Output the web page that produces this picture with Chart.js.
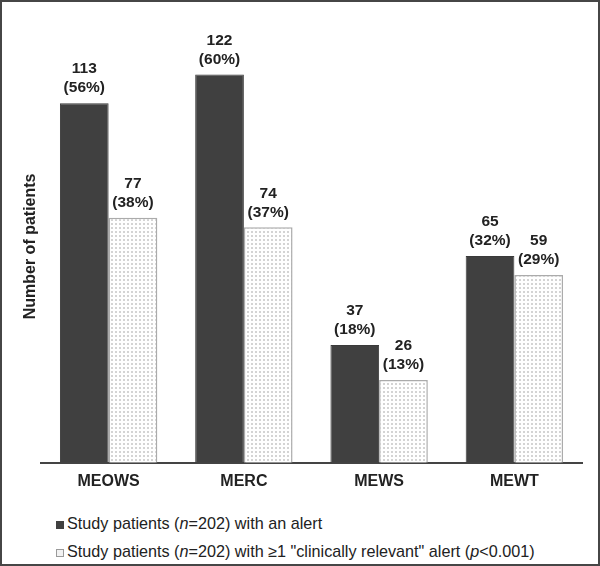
<!DOCTYPE html>
<html>
<head>
<meta charset="utf-8">
<script src="https://cdn.jsdelivr.net/npm/chart.js@4"></script>
<style>
  html, body { margin: 0; padding: 0; background: #fff; }
  #frame {
    position: relative;
    width: 600px; height: 566px;
    box-sizing: border-box;
    border: 2px solid #464646;
    background: #fff;
    font-family: Arial, "Liberation Sans", sans-serif;
  }
  #chartBox { position: absolute; left: 0; top: 0; width: 596px; height: 498px; }
  #legend { position: absolute; left: 54px; top: 507px; font-size: 16.2px; color: #222; }
  .row { height: 28px; line-height: 28px; white-space: nowrap; }
  .key { display: inline-block; width: 8px; height: 8px; margin-right: 3px; vertical-align: 0px; box-sizing: border-box; }
  .k1 { background: #404040; }
  .k2 { background: #f2f2f2; border: 1px solid #9a9a9a; }
</style>
</head>
<body>
<div id="frame">
  <div id="chartBox"><canvas id="alertChart"></canvas></div>
  <div id="legend">
    <div class="row"><span class="key k1"></span>Study patients (<i>n</i>=202) with an alert</div>
    <div class="row"><span class="key k2"></span>Study patients (<i>n</i>=202) with ≥1 "clinically relevant" alert (<i>p</i>&lt;0.001)</div>
  </div>
</div>
<script>
const scores = ["MEOWS", "MERC", "MEWS", "MEWT"];
const withAlert = [113, 122, 37, 65];
const withAlertPct = ["56%", "60%", "18%", "32%"];
const clinicallyRelevant = [77, 74, 26, 59];
const clinicallyRelevantPct = ["38%", "37%", "13%", "29%"];
const seriesNames = [
  "Study patients (n=202) with an alert",
  "Study patients (n=202) with ≥1 \"clinically relevant\" alert (p<0.001)"
];

function dotPattern() {
  const tile = document.createElement("canvas");
  tile.width = 4;
  tile.height = 4;
  const t = tile.getContext("2d");
  t.fillStyle = "#ffffff";
  t.fillRect(0, 0, 4, 4);
  t.fillStyle = "#d4d4d4";
  t.fillRect(1, 1, 2, 2);
  return t.createPattern(tile, "repeat");
}

// value + percentage above each bar
const barLabels = {
  id: "barLabels",
  afterDatasetsDraw(chart) {
    const ctx = chart.ctx;
    const pcts = [withAlertPct, clinicallyRelevantPct];
    ctx.save();
    ctx.font = "bold 15.5px Arial, 'Liberation Sans', sans-serif";
    ctx.fillStyle = "#222";
    ctx.textAlign = "center";
    ctx.textBaseline = "middle";
    chart.data.datasets.forEach((ds, i) => {
      chart.getDatasetMeta(i).data.forEach((bar, j) => {
        ctx.fillText(String(ds.data[j]), bar.x, bar.y - 34);
        ctx.fillText("(" + pcts[i][j] + ")", bar.x, bar.y - 15);
      });
    });
    ctx.restore();
  }
};

const ctx = document.getElementById("alertChart").getContext("2d");
new Chart(ctx, {
  type: "bar",
  data: {
    labels: scores,
    datasets: [
      {
        label: seriesNames[0],
        data: withAlert,
        backgroundColor: "#404040",
        borderColor: "#3a3a3a",
        borderWidth: 1,
        categoryPercentage: 0.72,
        barPercentage: 1.0,
      },
      {
        label: seriesNames[1],
        data: clinicallyRelevant,
        backgroundColor: dotPattern(),
        borderColor: "#ababab",
        borderWidth: 1.5,
        categoryPercentage: 0.72,
        barPercentage: 1.0,
      },
    ],
  },
  options: {
    responsive: true,
    maintainAspectRatio: false,
    animation: false,
    layout: { padding: { left: 15.4, right: 16, top: 28, bottom: 0 } },
    plugins: {
      legend: { display: false },
      tooltip: { enabled: false },
    },
    scales: {
      x: {
        grid: { display: false, drawTicks: false },
        border: { display: true, color: "#444", width: 2 },
        ticks: {
          color: "#222",
          padding: 9,
          font: { family: "Arial, 'Liberation Sans', sans-serif", size: 16, weight: "bold" },
        },
      },
      y: {
        min: 0,
        max: 136,
        grid: { display: false, drawTicks: false },
        border: { display: false },
        ticks: { display: false },
        title: {
          display: true,
          text: "Number of patients",
          color: "#222",
          padding: { top: 4, bottom: 0.4 },
          font: { family: "Arial, 'Liberation Sans', sans-serif", size: 16, weight: "bold" },
        },
      },
    },
  },
  plugins: [barLabels],
});
</script>
</body>
</html>
